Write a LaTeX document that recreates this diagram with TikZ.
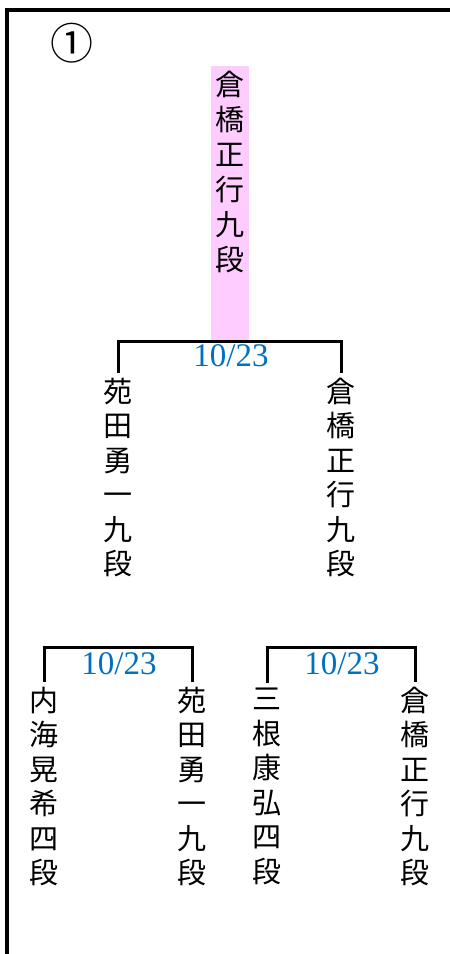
\documentclass[tikz,border=0pt]{standalone}
\usepackage{fontspec}
\setmainfont{Liberation Serif}
\newfontfamily\jp{Noto Sans CJK JP}
\definecolor{datecol}{HTML}{0070C0}
\definecolor{winpink}{HTML}{FFCCFF}
\tikzset{
  namecol/.style={font=\jp\fontsize{29}{34.5}\selectfont, align=center, inner sep=0pt},
  datelbl/.style={font=\fontsize{33}{33}\selectfont, text=datecol, inner sep=0pt},
  bracket/.style={line width=3pt, line cap=butt},
  frameline/.style={line width=3.5pt}
}
\begin{document}
\begin{tikzpicture}[x=1pt,y=-1pt]
\useasboundingbox (0,0) rectangle (450,954);
% frame
\draw[frameline] (7,954) -- (7,10) -- (452,10);
% number
\node[font=\jp\fontsize{43}{43}\selectfont, inner sep=0pt] (num) at (72,43) {①};
% winner box
\node[fill=winpink, minimum width=38pt, minimum height=275pt, inner sep=0pt] (topbox) at (230,203.5) {};
\node[namecol, font=\jp\fontsize{29}{35}\selectfont] (top) at (230,171.5) {倉\\橋\\正\\行\\九\\段};
% second level
\node[namecol] (s1) at (118,477.5) {苑\\田\\勇\\一\\九\\段};
\node[namecol] (s2) at (341,477.5) {倉\\橋\\正\\行\\九\\段};
\draw[bracket] ([yshift=5pt]s1.north) |- (topbox.south) -| ([yshift=5pt]s2.north);
\node[datelbl] (d1) at (231,356) {10/23};
% third level
\node[namecol] (t1) at (44,786.5) {内\\海\\晃\\希\\四\\段};
\node[namecol] (t2) at (192,786.5) {苑\\田\\勇\\一\\九\\段};
\node[namecol] (t3) at (267,786.5) {三\\根\\康\\弘\\四\\段};
\node[namecol] (t4) at (415,786.5) {倉\\橋\\正\\行\\九\\段};
\coordinate (j1) at (118,647);
\coordinate (j2) at (341,647);
\draw[bracket] ([yshift=5pt]t1.north) |- (j1) -| ([yshift=5pt]t2.north);
\draw[bracket] ([yshift=5pt]t3.north) |- (j2) -| ([yshift=5pt]t4.north);
\node[datelbl] (d2) at (119,664) {10/23};
\node[datelbl] (d3) at (342,664) {10/23};
\end{tikzpicture}
\end{document}
